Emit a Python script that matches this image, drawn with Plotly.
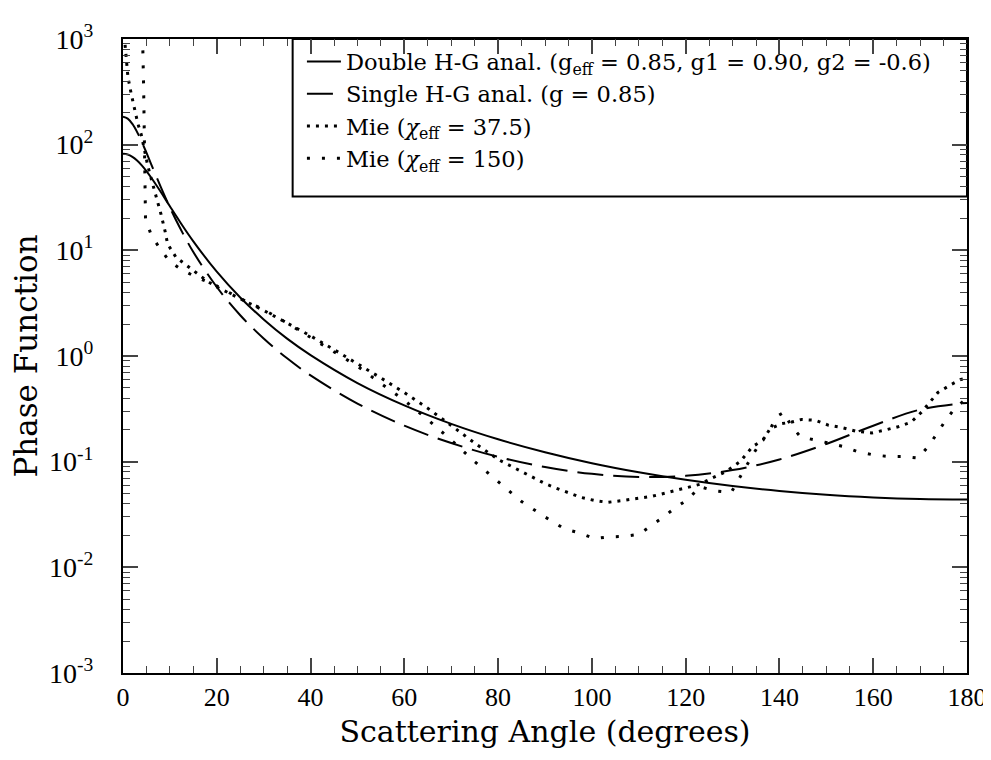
import plotly.graph_objects as go

# angles (degrees) and phase function values
hg_angle = [0, 1, 2, 3, 4, 5, 6, 8, 10, 12, 15, 20, 25, 30, 35, 40, 50, 60, 70, 80,
            90, 100, 110, 120, 130, 140, 150, 160, 170, 180]
solid_val = [82.2, 80.8, 76.8, 70.9, 63.8, 56.3, 48.9, 36.0, 26.1, 19.05, 12.17, 6.28, 3.58,
             2.22, 1.46, 1.02, 0.555, 0.341, 0.228, 0.163, 0.123, 0.0968, 0.0794, 0.0673,
             0.0588, 0.0528, 0.0486, 0.0459, 0.0443, 0.0438]
dashed_val = [183.7, 176.5, 157.1, 131.9, 106.4, 83.9, 65.6, 40.3, 25.5, 16.8, 9.64, 4.50, 2.43,
              1.466, 0.951, 0.655, 0.355, 0.219, 0.150, 0.111, 0.0889, 0.0767, 0.0717, 0.0734,
              0.0832, 0.105, 0.147, 0.219, 0.311, 0.360]

mie1_angle = [0.1, 0.35, 1.06, 1.76, 2.47, 3.17, 3.88, 4.58, 5.29, 6.0, 7.0, 8.1, 9.0, 9.5,
              11.3, 13.4, 15.2, 18, 20, 25, 30, 35, 40, 45, 50, 55, 60, 65, 70, 75, 80, 85,
              90, 92, 94, 97.6, 100.5, 103.3, 106.8, 110, 112.8, 115.3, 117.7, 120.6, 123,
              125.8, 128.7, 131.6, 134.3, 136.5, 138, 140.5, 142.6, 144.7, 147.7, 150.5,
              153.4, 156.2, 159.7, 162.5, 165.3, 168.1, 170.3, 172.4, 173.8, 176.7, 178.7, 180]
mie1_val = [1300, 950, 435, 302, 218, 158, 125, 88, 63, 48, 34, 22, 15, 11.5,
            8.6, 7.3, 6.3, 5.1, 4.5, 3.5, 2.7, 2.05, 1.55, 1.15, 0.85, 0.62, 0.45, 0.32, 0.22,
            0.15, 0.105, 0.08, 0.062, 0.057, 0.0528, 0.046, 0.043, 0.0412, 0.043, 0.045,
            0.047, 0.050, 0.053, 0.057, 0.061, 0.0705, 0.081, 0.1, 0.139, 0.16, 0.205, 0.229,
            0.237, 0.251, 0.246, 0.221, 0.21, 0.195, 0.187, 0.199, 0.214, 0.237, 0.294, 0.38,
            0.452, 0.54, 0.60, 0.62]

mie2_angle = [4.1, 4.3, 4.4, 4.5, 4.6, 4.7, 4.8, 6.0, 7.8, 9.9, 12.4, 15.2, 18, 20, 25, 30,
              35, 40, 45, 50, 55, 60, 65, 70, 75, 80, 85, 90, 94.1, 97.6, 100.5, 103.6, 106.8,
              110, 112.8, 115.3, 117.7, 120.6, 123, 126.1, 129.7, 131.1, 134.3, 136.1, 137.8,
              139.2, 141, 142.4, 144.5, 147.7, 150.5, 153.7, 156.5, 160, 163.2, 166.4, 169.6,
              171.7, 173.4, 175.2, 177.3, 180]
mie2_val = [1500, 700, 350, 170, 85, 40, 20, 14, 10.5, 7.9, 6.6, 5.7, 5.0, 4.6, 3.5, 2.75,
            2.05, 1.5, 1.1, 0.8, 0.55, 0.38, 0.25, 0.16, 0.1, 0.065, 0.042, 0.03, 0.0232,
            0.021, 0.0187, 0.0194, 0.0196, 0.0205, 0.025, 0.030, 0.0365, 0.0443, 0.058, 0.053,
            0.051, 0.0656, 0.116, 0.155, 0.19, 0.264, 0.294, 0.221, 0.172, 0.16, 0.15, 0.139,
            0.125, 0.116, 0.112, 0.112, 0.108, 0.139, 0.179, 0.237, 0.316, 0.40]

xtick_vals = [0, 20, 40, 60, 80, 100, 120, 140, 160, 180]
ytick_vals = [1e-3, 1e-2, 1e-1, 1e0, 1e1, 1e2, 1e3]
ytick_text = ["10<sup>-3</sup>", "10<sup>-2</sup>", "10<sup>-1</sup>", "10<sup>0</sup>",
              "10<sup>1</sup>", "10<sup>2</sup>", "10<sup>3</sup>"]
yminor_vals = [m * 10 ** e for e in range(-3, 3) for m in range(2, 10)]

names = [
    "Double H-G anal. (g<sub>eff</sub> = 0.85, g1 = 0.90, g2 = -0.6)",
    "Single H-G anal. (g = 0.85)",
    "Mie (<i>χ</i><sub>eff</sub> = 37.5)",
    "Mie (<i>χ</i><sub>eff</sub> = 150)",
]

TEXT_FONT = "DejaVu Serif"
TICK_FONT = "Liberation Serif"

fig = go.Figure()
fig.add_trace(go.Scatter(x=hg_angle, y=solid_val, mode="lines", name=names[0],
                         line=dict(color="black", width=2, shape="spline")))
fig.add_trace(go.Scatter(x=hg_angle, y=dashed_val, mode="lines", name=names[1],
                         line=dict(color="black", width=2, shape="spline", dash="26px,10px")))
fig.add_trace(go.Scatter(x=mie1_angle, y=mie1_val, mode="lines", name=names[2],
                         line=dict(color="black", width=3, dash="3px,6px")))
fig.add_trace(go.Scatter(x=mie2_angle, y=mie2_val, mode="lines", name=names[3],
                         line=dict(color="black", width=3, dash="3px,12px")))

# legend frame
fig.add_shape(type="rect", xref="paper", yref="paper", x0=0.201, x1=1, y0=0.7516, y1=1,
              line=dict(color="black", width=2), fillcolor="white", layer="below")

fig.update_layout(
    width=991, height=760,
    margin=dict(l=115, r=25, t=21, b=95),
    plot_bgcolor="white", paper_bgcolor="white",
    font=dict(family=TEXT_FONT, size=24, color="black"),
    showlegend=True,
    legend=dict(x=0.212, y=0.998, xanchor="left", yanchor="top",
                bgcolor="rgba(0,0,0,0)", borderwidth=0,
                font=dict(family=TEXT_FONT, size=22.5), tracegroupgap=0, itemwidth=34),
    xaxis=dict(
        range=[0, 180], tickvals=xtick_vals,
        ticks="inside", ticklen=15, tickwidth=1.5, mirror="ticks",
        showline=True, linewidth=2, linecolor="black", showgrid=False, zeroline=False,
        minor=dict(tickvals=list(range(5, 180, 5)), ticks="inside", ticklen=7, tickwidth=1.2),
        title=dict(text="Scattering Angle (degrees)", font=dict(family=TEXT_FONT, size=30),
                   standoff=10),
        tickfont=dict(family=TICK_FONT, size=26),
    ),
    yaxis=dict(
        type="log", range=[-3, 3], tickvals=ytick_vals, ticktext=ytick_text,
        ticks="inside", ticklen=15, tickwidth=1.5, mirror="ticks",
        showline=True, linewidth=2, linecolor="black", showgrid=False, zeroline=False,
        minor=dict(tickvals=yminor_vals, ticks="inside", ticklen=7, tickwidth=1.2),
        title=dict(text="Phase Function", font=dict(family=TEXT_FONT, size=31), standoff=2),
        tickfont=dict(family=TICK_FONT, size=28),
        ticklabelstandoff=22,
    ),
)

fig.write_html("out.html")
